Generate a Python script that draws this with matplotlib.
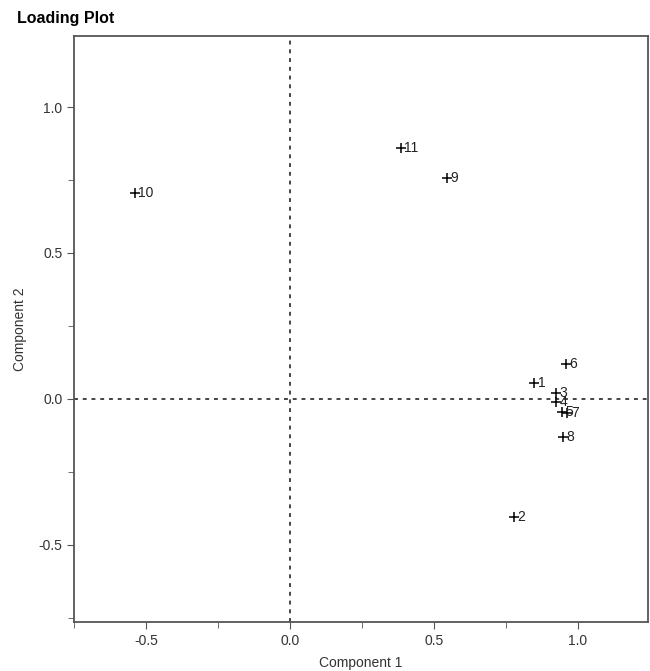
import matplotlib.pyplot as plt
from matplotlib.ticker import MultipleLocator

plt.rcParams['font.family'] = ['Liberation Sans', 'DejaVu Sans']
plt.rcParams['axes.unicode_minus'] = False

# loadings
labels = ['1', '2', '3', '4', '5', '6', '7', '8', '9', '10', '11']
comp1 = [0.85, 0.78, 0.925, 0.925, 0.945, 0.96, 0.965, 0.95, 0.545, -0.54, 0.385]
comp2 = [0.055, -0.405, 0.02, -0.012, -0.045, 0.12, -0.05, -0.13, 0.757, 0.705, 0.86]

fig = plt.figure(figsize=(6.5, 6.71), dpi=100)
ax = fig.add_axes([0.114, 0.073, 0.883, 0.873])

ax.axhline(0, color='#444444', linestyle=(0, (2, 2.5)), linewidth=1.4, zorder=1)
ax.axvline(0, color='#444444', linestyle=(0, (2, 2.5)), linewidth=1.4, zorder=1)

ax.scatter(comp1, comp2, marker='+', s=55, color='black', linewidths=1.1, zorder=3)
for x, y, t in zip(comp1, comp2, labels):
    ax.annotate(t, (x, y), xytext=(2.5, 0), textcoords='offset points',
                ha='left', va='center', fontsize=10, color='#222222')

ax.set_xlim(-0.75, 1.245)
ax.set_ylim(-0.765, 1.243)
ax.xaxis.set_major_locator(MultipleLocator(0.5))
ax.xaxis.set_minor_locator(MultipleLocator(0.25))
ax.yaxis.set_major_locator(MultipleLocator(0.5))
ax.yaxis.set_minor_locator(MultipleLocator(0.25))
ax.tick_params(which='both', direction='out', color='#555555', labelcolor='#333333', labelsize=10)
ax.tick_params(which='major', length=5)
ax.tick_params(which='minor', length=4)
for s in ax.spines.values():
    s.set_color('#555555')
    s.set_linewidth(1.3)

ax.set_xlabel('Component 1', fontsize=10, color='#333333', labelpad=6)
ax.set_ylabel('Component 2', fontsize=10, color='#333333', labelpad=8)
fig.text(0.026, 0.973, 'Loading Plot', fontsize=11.5, fontweight='bold', ha='left', va='center')

fig.savefig('out.png', dpi=100)
